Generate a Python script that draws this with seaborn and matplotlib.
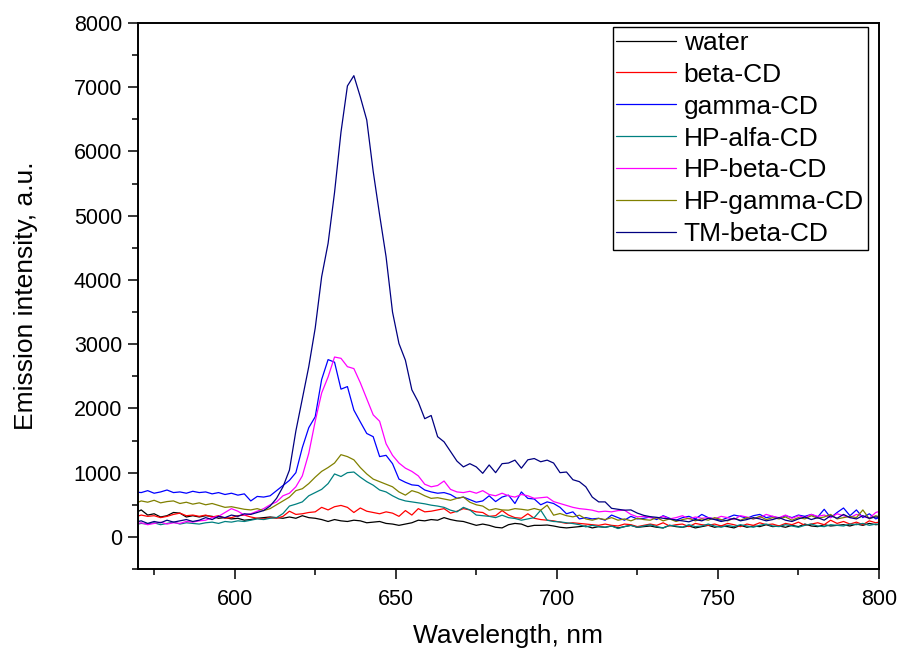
import numpy as np
import pandas as pd
import matplotlib
matplotlib.use("Agg")
import matplotlib.pyplot as plt
import seaborn as sns
from matplotlib.ticker import MultipleLocator

# Wavelength grid (nm), odd values 569..801
wavelength = list(range(569, 802, 2))

water = [370, 420, 340, 360, 310, 330, 380, 370, 310, 330,
         310, 330, 320, 290, 300, 280, 290, 260, 270, 290,
         300, 310, 300, 290, 310, 290, 330, 300, 290, 270,
         240, 270, 250, 240, 260, 250, 220, 230, 240, 210,
         200, 180, 200, 220, 260, 250, 270, 260, 300, 270,
         250, 240, 210, 180, 200, 180, 150, 140, 190, 210,
         200, 160, 180, 180, 185, 170, 150, 140, 150, 160,
         170, 140, 160, 150, 170, 140, 160, 180, 150, 160,
         170, 150, 140, 180, 160, 150, 170, 140, 160, 180,
         150, 170, 160, 140, 180, 150, 170, 160, 190, 160,
         170, 150, 180, 160, 200, 170, 160, 190, 170, 180,
         190, 170, 200, 180, 210, 190, 200]

beta_cd = [310, 340, 320, 330, 300, 320, 350, 370, 330, 340,
           320, 340, 310, 330, 290, 300, 330, 340, 310, 290,
           280, 300, 290, 320, 400, 350, 360, 380, 390, 460,
           420, 470, 490, 460, 380, 450, 400, 380, 360, 390,
           370, 320, 410, 340, 440, 390, 400, 420, 440, 370,
           400, 440, 420, 390, 380, 320, 330, 410, 340, 300,
           290, 360, 290, 270, 260, 250, 230, 210, 220, 210,
           200, 190, 180, 200, 180, 170, 200, 190, 160, 180,
           200, 180, 220, 170, 190, 200, 160, 210, 190, 180,
           200, 170, 210, 190, 160, 200, 180, 220, 190, 200,
           170, 210, 190, 230, 180, 200, 220, 190, 260, 210,
           240, 200, 230, 190, 250, 220, 240]

gamma_cd = [700, 690, 720, 680, 700, 730, 690, 700, 680, 710,
            690, 700, 670, 690, 660, 680, 650, 670, 560, 630,
            620, 640, 720, 800, 880, 1000, 1390, 1700, 1870, 2450,
            2760, 2720, 2300, 2340, 1974, 1790, 1610, 1560, 1250, 1270,
            1140, 900, 850, 810, 800, 730, 700, 680, 690, 660,
            600, 620, 580, 540, 560, 640, 550, 620, 650, 520,
            700, 600, 590, 500, 545, 520, 460, 360, 390, 280,
            300, 280, 290, 260, 340, 300, 260, 320, 280, 290,
            310, 270, 330, 290, 260, 300, 320, 280, 350, 300,
            280, 260, 300, 340, 320, 290, 330, 350, 300, 320,
            290, 330, 300, 340, 320, 350, 310, 430, 300, 380,
            450, 330, 420, 300, 360, 280, 320]

hp_alfa_cd = [190, 210, 200, 220, 190, 210, 230, 200, 220, 210,
              200, 220, 230, 210, 240, 230, 250, 240, 260, 280,
              270, 290, 300, 364, 480, 510, 545, 640, 690, 740,
              830, 980, 940, 1000, 1010, 930, 860, 805, 730, 700,
              640, 590, 560, 545, 530, 515, 494, 480, 460, 416,
              390, 460, 420, 340, 330, 320, 300, 338, 300, 287,
              260, 280, 300, 416, 260, 240, 234, 220, 208, 190,
              156, 180, 160, 150, 170, 130, 160, 180, 150, 170,
              190, 160, 140, 180, 170, 150, 190, 160, 170, 200,
              170, 150, 180, 160, 190, 170, 150, 180, 200, 170,
              160, 190, 170, 150, 180, 200, 170, 160, 190, 180,
              170, 200, 190, 210, 180, 200, 190]

hp_beta_cd = [200, 220, 190, 210, 230, 200, 220, 210, 240, 230,
              250, 260, 300, 320, 380, 440, 400, 340, 360, 400,
              440, 500, 545, 640, 680, 780, 950, 1300, 1800, 2240,
              2490, 2800, 2780, 2650, 2620, 2400, 2150, 1900, 1800, 1450,
              1270, 1150, 1070, 1020, 950, 820, 780, 800, 870, 740,
              700, 690, 710, 680, 720, 660, 640, 680, 640, 620,
              660, 640, 600, 610, 620, 550, 520, 490, 460, 440,
              430, 416, 390, 400, 390, 410, 416, 350, 312, 320,
              300, 290, 320, 280, 300, 330, 280, 310, 290, 300,
              280, 320, 300, 270, 330, 310, 280, 300, 350, 320,
              300, 340, 290, 330, 300, 350, 320, 340, 300, 360,
              330, 300, 350, 320, 290, 380, 410]

hp_gamma_cd = [520, 560, 540, 570, 530, 550, 560, 520, 540, 510,
               530, 500, 520, 490, 460, 470, 450, 430, 420, 440,
               410, 440, 500, 560, 620, 720, 750, 830, 930, 1020,
               1080, 1150, 1280, 1250, 1200, 1080, 980, 900, 860, 820,
               780, 700, 650, 720, 690, 640, 600, 610, 590, 570,
               600, 620, 540, 500, 480, 416, 440, 420, 416, 440,
               430, 416, 442, 416, 494, 338, 364, 330, 312, 338,
               280, 260, 287, 270, 300, 260, 280, 250, 290, 270,
               260, 300, 250, 280, 240, 270, 290, 250, 280, 260,
               300, 270, 250, 290, 260, 300, 280, 320, 270, 300,
               280, 310, 260, 300, 280, 330, 290, 310, 350, 280,
               300, 320, 300, 420, 280, 330, 300]

tm_beta_cd = [230, 250, 210, 240, 220, 260, 230, 250, 270, 240,
              260, 300, 270, 320, 300, 340, 320, 360, 350, 380,
              410, 480, 600, 780, 1040, 1650, 2150, 2650, 3250, 4050,
              4570, 5360, 6300, 7020, 7180, 6850, 6490, 5690, 5010, 4360,
              3500, 3010, 2750, 2290, 2100, 1840, 1890, 1560, 1480, 1330,
              1180, 1090, 1140, 1090, 990, 1120, 1000, 1140, 1150, 1195,
              1070, 1200, 1220, 1170, 1195, 1150, 1000, 1010, 890, 860,
              780, 620, 545, 545, 445, 430, 416, 420, 370, 335,
              315, 305, 290, 280, 262, 250, 235, 270, 250, 290,
              270, 240, 260, 290, 250, 270, 300, 280, 250, 270,
              300, 260, 240, 280, 310, 270, 300, 260, 330, 290,
              350, 300, 280, 330, 290, 310, 300]

labels = ["water", "beta-CD", "gamma-CD", "HP-alfa-CD", "HP-beta-CD",
          "HP-gamma-CD", "TM-beta-CD"]
series = [water, beta_cd, gamma_cd, hp_alfa_cd, hp_beta_cd, hp_gamma_cd, tm_beta_cd]
colors = ["#000000", "#FF0000", "#0000FF", "#008080", "#FF00FF", "#808000", "#000080"]

frames = []
for lab, vals in zip(labels, series):
    frames.append(pd.DataFrame({"Wavelength": wavelength, "Intensity": vals, "Sample": lab}))
df = pd.concat(frames, ignore_index=True)

sns.set_style("ticks")
plt.rcParams["font.family"] = ["Liberation Sans", "DejaVu Sans"]
plt.rcParams["text.color"] = "black"
plt.rcParams["axes.labelcolor"] = "black"
plt.rcParams["xtick.color"] = "black"
plt.rcParams["ytick.color"] = "black"

fig = plt.figure(figsize=(8.98, 6.53), dpi=100)
ax = fig.add_axes([0.1537, 0.1286, 0.8251, 0.8362])

sns.lineplot(data=df, x="Wavelength", y="Intensity", hue="Sample",
             hue_order=labels, palette=dict(zip(labels, colors)),
             estimator=None, sort=False, linewidth=0.9, ax=ax, legend=False)

ax.set_xlim(570, 800)
ax.set_ylim(-500, 8000)
ax.xaxis.set_major_locator(MultipleLocator(50))
ax.xaxis.set_minor_locator(MultipleLocator(25))
ax.yaxis.set_major_locator(MultipleLocator(1000))
ax.yaxis.set_minor_locator(MultipleLocator(500))
ax.tick_params(which="major", direction="out", length=7.5, width=1.1,
               labelsize=15.5, colors="black", labelcolor="black",
               top=False, right=False)
ax.tick_params(axis="x", which="major", pad=7)
ax.tick_params(axis="y", which="major", pad=4)
ax.tick_params(which="minor", direction="out", length=4.5, width=1.1,
               colors="black", top=False, right=False)
for sp in ax.spines.values():
    sp.set_visible(True)
    sp.set_linewidth(1.4)
    sp.set_color("black")

ax.set_xlabel("Wavelength, nm", fontsize=19, labelpad=10, color="black")
ax.set_ylabel("Emission intensity, a.u.", fontsize=19, labelpad=26, color="black")

handles = [plt.Line2D([], [], color=c, linewidth=0.9) for c in colors]
leg = ax.legend(handles, labels, loc="upper right", bbox_to_anchor=(0.985, 0.993),
                borderaxespad=0, fontsize=19, frameon=True, fancybox=False,
                edgecolor="black", framealpha=1, labelspacing=0.3,
                handlelength=2.25, handletextpad=0.3, borderpad=0.15,
                labelcolor="black")
leg.get_frame().set_linewidth(1.0)

fig.savefig("out.png", dpi=100)
